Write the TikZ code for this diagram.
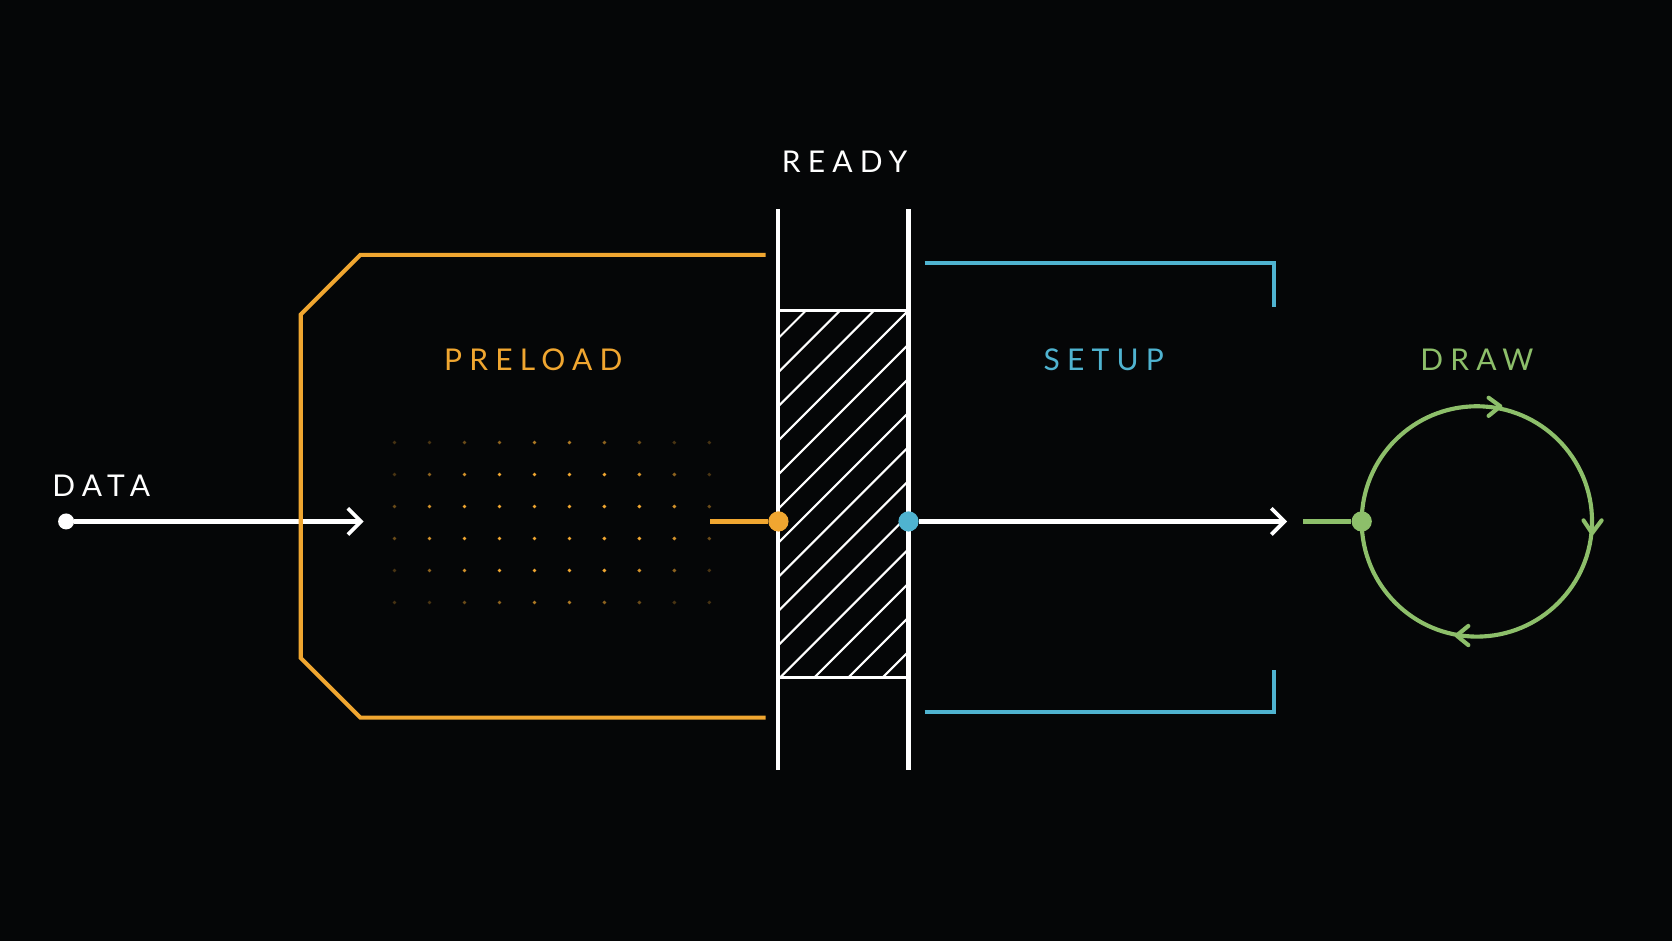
\documentclass[tikz,border=0pt]{standalone}
\usepackage{fontspec}
\setmainfont{Lato}
\usetikzlibrary{arrows.meta}
\definecolor{bg}{HTML}{050607}
\definecolor{org}{HTML}{F0A630}
\definecolor{blu}{HTML}{4FB3D0}
\definecolor{grn}{HTML}{8DBF6A}
\begin{document}
\begin{tikzpicture}[x=0.02cm,y=-0.02cm,
  ln/.style={line width=2.2pt},
  lbl/.style={font=\fontsize{16}{18}\selectfont\addfontfeature{LetterSpace=24}},
  arr/.style={-{Straight Barb[length=7pt,width=14pt,line width=2pt]}},
  dot/.style={circle,inner sep=0pt,minimum size=0.38cm}]
\fill[bg] (0,0) rectangle (1568,882);
\useasboundingbox (0,0) rectangle (1568,882);
% DATA
\node[lbl,white] (tdata) at (95,456) {DATA};
\node[dot,fill=white,minimum size=0.3cm] (d0) at (62,489) {};
\coordinate (d1) at (341,489);
\draw[ln,white,arr] (d0) -- (d1);
% PRELOAD
\draw[ln,org] (718,239) -- (338,239) -- (282,295) -- (282,617) -- (338,673) -- (718,673);
\node[lbl,org] (tpre) at (500,337) {PRELOAD};
\foreach \i in {0,...,9}{\foreach \j in {0,...,5}{
  \pgfmathsetmacro\op{max(0.1,(1-abs(\i-4.5)/5.5)*(1-abs(\j-2.5)/3.5))*2.8}
  \pgfmathsetmacro\opp{min(1,\op)}
  \fill[org,opacity=\opp] (370+32.8*\i,415+30*\j) circle (1.8);
}}
% READY
\node[lbl,white] (tready) at (792,152) {READY};
\begin{scope}
\clip (730,291) rectangle (852,635);
\foreach \k in {0,...,17}{
  \draw[line width=1.1pt,white] (730-350+32*\k,635) -- ++(400,-400);
}
\end{scope}
\draw[line width=1.6pt,white] (730,291) rectangle (852,635);
\draw[ln,white] (730,196) -- (730,722);
\draw[ln,white] (852,196) -- (852,722);
\coordinate (o0) at (666,489);
\node[dot,fill=org] (od) at (730,489) {};
\draw[ln,org] (o0) -- (od);
% SETUP
\node[dot,fill=blu] (bd) at (852,489) {};
\coordinate (b1) at (1207,489);
\draw[ln,white,arr] (bd) -- (b1);
\draw[ln,blu] (867,247) -- (1195,247) -- (1195,288);
\draw[ln,blu] (867,668) -- (1195,668) -- (1195,628);
\node[lbl,blu] (tsetup) at (1035,337) {SETUP};
% DRAW
\node[lbl,grn] (tdraw) at (1385,337) {DRAW};
\coordinate (g0) at (1222,489);
\draw[ln,grn] (1385,489) circle (108);
\node[dot,fill=grn] (gd) at (1277,489) {};
\draw[ln,grn] (g0) -- (gd);
\draw[ln,grn,line cap=round,line join=round] (1396,373) -- (1407,381) -- (1396,390);
\draw[ln,grn,line cap=round,line join=round] (1485,488) -- (1493,500) -- (1502,488);
\draw[ln,grn,line cap=round,line join=round] (1377,587) -- (1366,596) -- (1377,605);
\end{tikzpicture}
\end{document}
